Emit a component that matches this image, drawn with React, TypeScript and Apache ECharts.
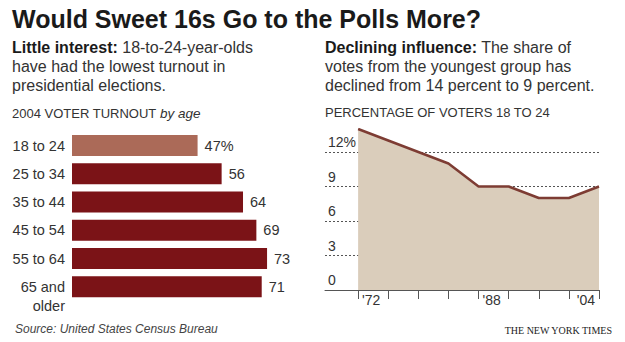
import React, { useEffect, useRef } from "react";
import * as echarts from "echarts";

const ageGroups = ["18 to 24", "25 to 34", "35 to 44", "45 to 54", "55 to 64", "65 and\nolder"];
const turnout = [47, 56, 64, 69, 73, 71];

const electionYears = [1972, 1976, 1980, 1984, 1988, 1992, 1996, 2000, 2004];
const youthShare = [14, 13, 12, 11, 9, 9, 8, 8, 9];
const leftYearLabels = [1972, 1988];
const rightYearLabels = [2004];
const yTicks = [0, 3, 6, 9, 12];

const FONT = "'Liberation Sans', Arial, Helvetica, sans-serif";

export default function App() {
  const ref = useRef<HTMLDivElement>(null);
  useEffect(() => {
    if (!ref.current) return;
    const chart = echarts.init(ref.current, undefined, { renderer: "svg" });
    const yearFmt = (v: number) => "'" + String(v).slice(2);
    const option: any = {
      animation: false,
      backgroundColor: "#ffffff",
      textStyle: { fontFamily: FONT },
      grid: [
        { left: 72, right: 285.8, top: 131.4, bottom: 41.1, containLabel: false },
        { left: 325, right: 26, top: 129, bottom: 52, containLabel: false },
      ],
      xAxis: [
        {
          gridIndex: 0,
          type: "value",
          min: 0,
          max: 100,
          show: false,
        },
        {
          gridIndex: 1,
          type: "value",
          min: 1967.6,
          max: 2004,
          axisLine: { show: true, lineStyle: { color: "#555", width: 1 } },
          axisTick: {
            show: true,
            customValues: electionYears,
            length: 9,
            lineStyle: { color: "#555", width: 1 },
          },
          axisLabel: {
            customValues: leftYearLabels,
            formatter: yearFmt,
            align: "left",
            verticalAlign: "top",
            padding: [0, 0, 0, 4],
            margin: 3,
            fontSize: 14,
            color: "#333",
            fontFamily: FONT,
          },
          splitLine: { show: false },
        },
        {
          gridIndex: 1,
          type: "value",
          min: 1967.6,
          max: 2004,
          position: "bottom",
          axisLine: { show: false },
          axisTick: { show: false },
          axisLabel: {
            customValues: rightYearLabels,
            formatter: yearFmt,
            align: "right",
            verticalAlign: "top",
            padding: [0, 4, 0, 0],
            margin: 3,
            fontSize: 14,
            color: "#333",
            fontFamily: FONT,
          },
          splitLine: { show: false },
        },
      ],
      yAxis: [
        {
          gridIndex: 0,
          type: "category",
          inverse: true,
          data: ageGroups,
          axisLine: { show: false },
          axisTick: { show: false },
          axisLabel: {
            interval: 0,
            hideOverlap: false,
            fontSize: 14.5,
            color: "#333",
            margin: 7,
            lineHeight: 19,
            align: "right",
            fontFamily: FONT,
            formatter: (v: string) => (v.includes("\n") ? "{pad| }\n" + v : v),
            rich: {
              pad: { fontSize: 14.5, lineHeight: 19, fontFamily: FONT, color: "#333" },
            },
          },
        },
        {
          gridIndex: 1,
          type: "value",
          min: 0,
          max: 14,
          interval: 3,
          axisLine: { show: false },
          axisTick: { show: false },
          axisLabel: {
            inside: true,
            customValues: yTicks,
            formatter: (v: number) => (v === 12 ? "12%" : String(v)),
            align: "left",
            verticalAlign: "bottom",
            padding: [0, 0, 3, 0],
            margin: 3,
            fontSize: 14,
            color: "#333",
            fontFamily: FONT,
          },
          splitLine: {
            show: true,
            showMinLine: false,
            showMaxLine: false,
            lineStyle: { color: "#555", type: [2, 2], width: 1.2 },
          },
        },
      ],
      series: [
        {
          type: "bar",
          xAxisIndex: 0,
          yAxisIndex: 0,
          barWidth: 21,
          data: turnout.map((v, i) =>
            i === 0
              ? { value: v, itemStyle: { color: "#ab6a58" } }
              : { value: v, itemStyle: { color: "#7b1317" } }
          ),
          label: {
            show: true,
            position: "right",
            distance: 7,
            fontSize: 14.5,
            color: "#333",
            fontFamily: FONT,
            formatter: (p: any) => (p.dataIndex === 0 ? p.value + "%" : String(p.value)),
          },
        },
        {
          type: "line",
          xAxisIndex: 1,
          yAxisIndex: 1,
          data: electionYears.map((y, i) => [y, youthShare[i]]),
          showSymbol: false,
          symbol: "none",
          lineStyle: { color: "#7d3c33", width: 2.5 },
          areaStyle: { color: "#dacdbb", opacity: 1 },
          z: 1,
        },
      ],
      graphic: [
        {
          type: "text",
          x: 12,
          y: 6,
          style: {
            text: "Would Sweet 16s Go to the Polls More?",
            font: `bold 25px ${FONT}`,
            fill: "#1a1a1a",
          },
        },
        {
          type: "text",
          x: 12,
          y: 38,
          style: {
            text:
              "{b|Little interest:} 18-to-24-year-olds\nhave had the lowest turnout in\npresidential elections.",
            fontSize: 16,
            fontFamily: FONT,
            fill: "#333",
            lineHeight: 19,
            rich: {
              b: { fontWeight: "bold", fontSize: 16, fontFamily: FONT, fill: "#1a1a1a", lineHeight: 19 },
            },
          },
        },
        {
          type: "text",
          x: 325,
          y: 38,
          style: {
            text:
              "{b|Declining influence:} The share of\nvotes from the youngest group has\ndeclined from 14 percent to 9 percent.",
            fontSize: 16,
            fontFamily: FONT,
            fill: "#333",
            lineHeight: 19,
            rich: {
              b: { fontWeight: "bold", fontSize: 16, fontFamily: FONT, fill: "#1a1a1a", lineHeight: 19 },
            },
          },
        },
        {
          type: "text",
          x: 12,
          y: 106,
          style: {
            text: "2004 VOTER TURNOUT {i|by age}",
            fontSize: 13,
            fontFamily: FONT,
            fill: "#333",
            rich: { i: { fontStyle: "italic", fontSize: 13.5, fontFamily: FONT, fill: "#333" } },
          },
        },
        {
          type: "text",
          x: 325,
          y: 106,
          style: {
            text: "PERCENTAGE OF VOTERS 18 TO 24",
            fontSize: 13,
            fontFamily: FONT,
            fill: "#333",
          },
        },
        {
          type: "text",
          x: 15,
          y: 323,
          style: {
            text: "Source: United States Census Bureau",
            font: `italic 12px ${FONT}`,
            fill: "#444",
          },
        },
        {
          type: "text",
          x: 612,
          y: 325,
          style: {
            text: "THE NEW YORK TIMES",
            font: `10px 'Liberation Serif', 'Times New Roman', serif`,
            fill: "#222",
            align: "right",
          },
        },
      ],
    };
    chart.setOption(option);
    return () => chart.dispose();
  }, []);
  return (
    <div
      ref={ref}
      style={{ position: "fixed", left: 0, top: 0, width: 625, height: 342, background: "#fff" }}
    />
  );
}
